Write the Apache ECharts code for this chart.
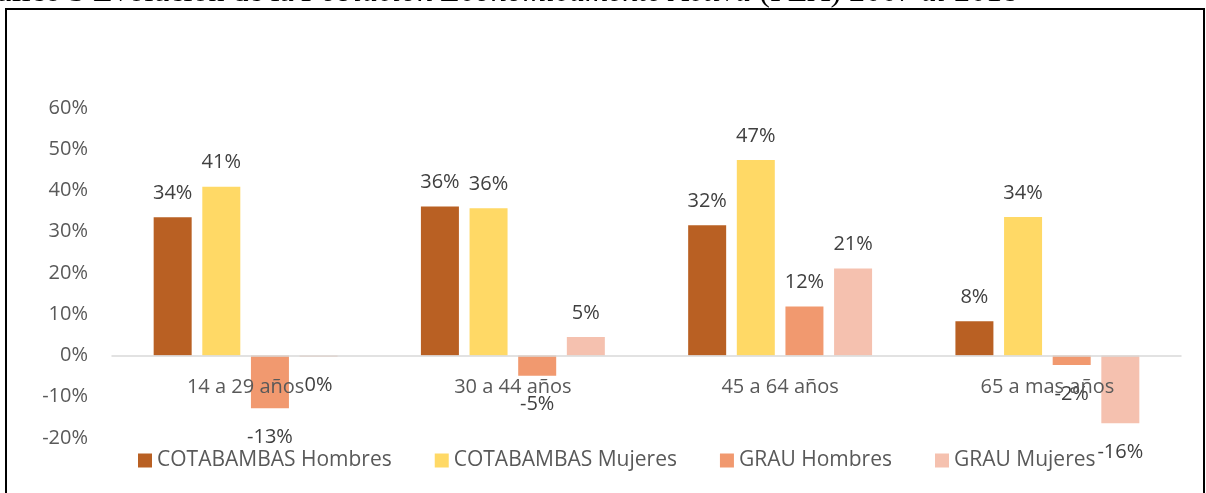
<!DOCTYPE html>
<html lang="es">
<head>
    <meta charset="utf-8">
    <script src="https://cdn.jsdelivr.net/npm/echarts@6/dist/echarts.min.js"></script>
    <title>Evolución de la PEA</title>
    <style>
        html, body { margin: 0; padding: 0; background: #fff; }
        #main { width: 1206px; height: 493px; }
    </style>
</head>
<body>
<div id="main"></div>
<script>
    var categories = ['14 a 29 años', '30 a 44 años', '45 a 64 años', '65 a mas años'];
    var seriesNames = ['COTABAMBAS Hombres', 'COTABAMBAS Mujeres', 'GRAU Hombres', 'GRAU Mujeres'];
    var cotHombres = [33.5, 36.1, 31.6, 8.3];
    var cotMujeres = [40.9, 35.7, 47.4, 33.6];
    var grauHombres = [-12.8, -4.9, 11.9, -2.3];
    var grauMujeres = [-0.3, 4.5, 21.1, -16.4];
    var colors = ['#B96023', '#FFD966', '#F1996F', '#F5C1AF'];

    var font = 'Open Sans';

    // labels above for positives, below for negatives (like excel "outside end")
    function toData(arr) {
        return arr.map(function (v) {
            return {
                value: v,
                label: {
                    position: v >= 0 ? 'top' : 'bottom',
                    distance: v >= 0 ? 14 : 19
                }
            };
        });
    }

    function makeSeries(name, arr, i) {
        return {
            name: name,
            type: 'bar',
            barWidth: 38,
            barGap: '28%',
            itemStyle: {color: colors[i]},
            label: {
                show: true,
                fontFamily: font,
                fontSize: 20,
                color: '#404040',
                formatter: function (p) {
                    return Math.round(p.value) + '%';
                }
            },
            data: toData(arr)
        };
    }

    var chart = echarts.init(document.getElementById('main'));
    var option = {
        animation: false,
        backgroundColor: '#fff',
        color: colors,
        graphic: [{
            type: 'rect',
            shape: {x: 6, y: 9, width: 1198, height: 500},
            style: {fill: 'none', stroke: '#000', lineWidth: 2},
            z: 100
        }, {
            type: 'text',
            x: 1018,
            y: -7,
            style: {
                text: '{n|Gráfico 3 Evolución de la }{i|Población Económicamente Activa}{n| (PEA) 2007 }{i|al}{n| 2018}',
                align: 'right',
                verticalAlign: 'middle',
                rich: {
                    n: {fontFamily: 'Liberation Serif', fontSize: 32, fill: '#000'},
                    i: {fontFamily: 'Liberation Serif', fontSize: 32, fontStyle: 'italic', fill: '#000'}
                }
            }
        }],
        legend: {
            data: seriesNames,
            left: 138,
            top: 450,
            padding: 0,
            itemWidth: 14,
            itemHeight: 14,
            itemGap: 43,
            icon: 'rect',
            textStyle: {fontFamily: font, fontSize: 21, color: '#595959'}
        },
        grid: {left: 112, right: 25, top: 108, bottom: 55},
        xAxis: {
            type: 'category',
            data: categories,
            offset: -82,
            z: 10,
            axisTick: {show: false},
            axisLine: {onZero: false, lineStyle: {color: '#D9D9D9', width: 1.5}},
            axisLabel: {fontFamily: font, fontSize: 20, color: '#595959', margin: 21}
        },
        yAxis: {
            type: 'value',
            min: -20,
            max: 60,
            interval: 10,
            splitLine: {show: false},
            axisLine: {show: false},
            axisTick: {show: false},
            axisLabel: {
                fontFamily: font, fontSize: 20, color: '#595959', margin: 24,
                formatter: '{value}%'
            }
        },
        series: [
            makeSeries(seriesNames[0], cotHombres, 0),
            makeSeries(seriesNames[1], cotMujeres, 1),
            makeSeries(seriesNames[2], grauHombres, 2),
            makeSeries(seriesNames[3], grauMujeres, 3)
        ]
    };
    chart.setOption(option);
</script>
</body>
</html>
